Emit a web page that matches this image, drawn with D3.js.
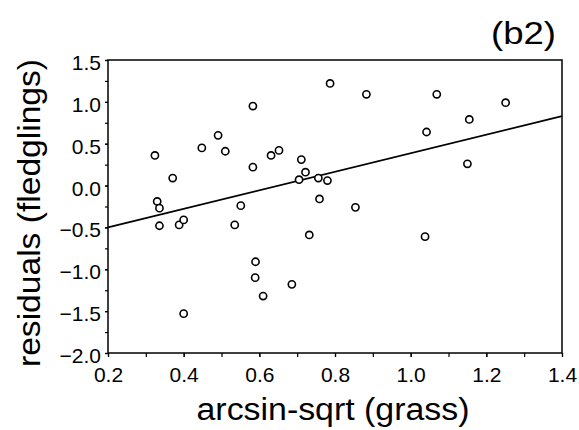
<!DOCTYPE html>
<html>
<head>
<meta charset="utf-8">
<script src="https://cdn.jsdelivr.net/npm/d3@7"></script>
<style>
  body { margin: 0; background: #fff; }
  text { font-family: "Liberation Sans", Arial, Helvetica, sans-serif; fill: #000; }
</style>
</head>
<body>
<svg id="chart" width="579" height="430"></svg>
<script>
// grass cover (arcsin-sqrt) vs residual fledgling number
var grass = [0.324, 0.330, 0.336, 0.336, 0.371, 0.388, 0.400, 0.400, 0.448, 0.491,
             0.510, 0.535, 0.551, 0.583, 0.583, 0.590, 0.589, 0.610, 0.631, 0.652,
             0.686, 0.705, 0.711, 0.722, 0.732, 0.756, 0.759, 0.780, 0.787, 0.854,
             0.883, 1.038, 1.042, 1.069, 1.150, 1.155, 1.251];
var resid = [0.36, -0.19, -0.27, -0.48, 0.09, -0.47, -0.41, -1.53, 0.45, 0.60,
             0.41, -0.47, -0.24, 0.95, 0.22, -0.91, -1.10, -1.32, 0.36, 0.42,
             -1.18, 0.07, 0.31, 0.16, -0.59, 0.09, -0.16, 0.06, 1.22, -0.26,
             1.09, -0.61, 0.64, 1.09, 0.26, 0.79, 0.99];

// fitted line end points
var fitX = [0.2, 1.4];
var fitY = [-0.50, 0.83];

var xTicks = [0.2, 0.4, 0.6, 0.8, 1.0, 1.2, 1.4];
var yTicks = [1.5, 1.0, 0.5, 0.0, -0.5, -1.0, -1.5, -2.0];

var svg = d3.select("#chart"),
    margin = {top: 60, right: 17, bottom: 77, left: 108},
    width = +svg.attr("width") - margin.left - margin.right,
    height = +svg.attr("height") - margin.top - margin.bottom;

var x = d3.scaleLinear().domain([0.2, 1.4]).range([0, width]),
    y = d3.scaleLinear().domain([-2.0, 1.5]).range([height, 0]);

var g = svg.append("g")
    .attr("transform", "translate(" + margin.left + "," + margin.top + ")");

// minor ticks
g.append("g")
    .attr("transform", "translate(0," + height + ")")
    .call(d3.axisBottom(x).tickValues(d3.range(2, 15).map(function(d) { return d / 10; }))
      .tickSize(4).tickFormat(""))
    .call(function(a) { a.select(".domain").remove(); });
g.append("g")
    .call(d3.axisLeft(y).tickValues(d3.range(-8, 7).map(function(d) { return d / 4; }))
      .tickSize(3).tickFormat(""))
    .call(function(a) { a.select(".domain").remove(); });

// labelled axes
g.append("g")
    .attr("class", "axis axis--x")
    .attr("transform", "translate(0," + height + ")")
    .call(d3.axisBottom(x).tickValues(xTicks).tickSize(4).tickPadding(6)
      .tickFormat(d3.format(".1f")))
    .call(function(a) { a.select(".domain").remove(); });

g.append("g")
    .attr("class", "axis axis--y")
    .call(d3.axisLeft(y).tickValues(yTicks).tickSize(3).tickPadding(4)
      .tickFormat(d3.format(".1f")))
    .call(function(a) { a.select(".domain").remove(); });

svg.selectAll(".tick line").attr("stroke", "#000").attr("stroke-width", 1.2);
svg.selectAll(".axis text")
    .style("font-size", "21px")
    .attr("fill", "#000");
svg.selectAll(".axis--y text").attr("dy", "0.45em");
svg.selectAll(".axis--x text").attr("dy", "0.9em");

// frame
g.append("rect")
    .attr("width", width)
    .attr("height", height)
    .attr("fill", "none")
    .attr("stroke", "#000")
    .attr("stroke-width", 1.5);

// regression line
g.append("line")
    .attr("x1", x(fitX[0])).attr("y1", y(fitY[0]))
    .attr("x2", x(fitX[1])).attr("y2", y(fitY[1]))
    .attr("stroke", "#000")
    .attr("stroke-width", 1.8);

g.selectAll(".pt")
  .data(grass)
  .enter().append("circle")
    .attr("class", "pt")
    .attr("cx", function(d) { return x(d); })
    .attr("cy", function(d, i) { return y(resid[i]); })
    .attr("r", 3.6)
    .attr("fill", "#fff")
    .attr("stroke", "#000")
    .attr("stroke-width", 1.6);

// titles
svg.append("text")
    .attr("x", 333)
    .attr("y", 420)
    .attr("text-anchor", "middle")
    .attr("textLength", 273)
    .attr("lengthAdjust", "spacingAndGlyphs")
    .style("font-size", "31px")
    .text("arcsin-sqrt (grass)");

svg.append("text")
    .attr("transform", "translate(40,213) rotate(-90)")
    .attr("text-anchor", "middle")
    .attr("textLength", 308)
    .attr("lengthAdjust", "spacingAndGlyphs")
    .style("font-size", "31px")
    .text("residuals (fledglings)");

svg.append("text")
    .attr("x", 556)
    .attr("y", 44)
    .attr("text-anchor", "end")
    .attr("textLength", 65)
    .attr("lengthAdjust", "spacingAndGlyphs")
    .style("font-size", "31px")
    .text("(b2)");
</script>
</body>
</html>
